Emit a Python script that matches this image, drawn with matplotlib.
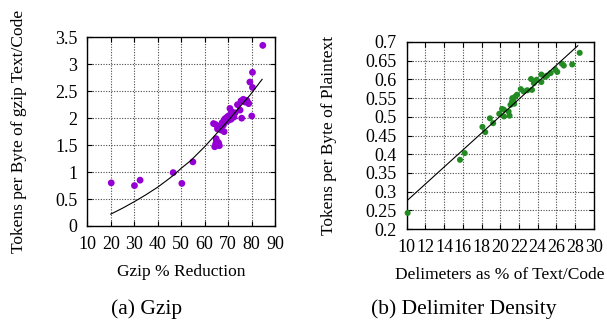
import matplotlib
matplotlib.use("Agg")
import matplotlib.pyplot as plt
import numpy as np

plt.rcParams["font.family"] = ["Liberation Serif", "DejaVu Serif"]
plt.rcParams["mathtext.fontset"] = "stix"

# (a) gzip: reduction % vs tokens per byte of gzipped text
gzip_reduction = [20.2, 30.1, 32.5, 46.6, 50.3, 55.0,
                  64.3, 64.7, 65.0, 65.4, 65.8, 66.3, 64.9, 66.0,
                  63.8, 64.8, 65.5, 66.2, 67.0, 67.5, 68.0, 68.3, 68.5,
                  69.0, 69.4, 69.8, 70.2, 70.5, 70.8, 71.3, 71.5, 72.2,
                  72.5, 73.0, 74.0, 75.1, 75.5, 75.8, 76.5, 77.2, 78.0,
                  78.6, 78.8, 79.3, 80.1, 80.4, 80.4, 84.8]
gzip_tokens = [0.80, 0.75, 0.85, 0.99, 0.79, 1.19,
               1.47, 1.52, 1.58, 1.50, 1.55, 1.49, 1.62, 1.53,
               1.90, 1.88, 1.80, 1.84, 1.78, 1.92, 1.87, 1.75, 1.98,
               2.00, 1.94, 2.03, 1.96, 2.05, 2.18, 1.98, 2.12, 2.09,
               2.02, 2.10, 2.25, 2.15, 2.32, 2.00, 2.35, 2.30, 2.33,
               2.28, 2.27, 2.67, 2.04, 2.85, 2.57, 3.35]
gzip_fit_x = [20, 25, 30, 35, 40, 44, 47, 50, 54, 57, 60, 65, 70, 75, 79.4, 84.5]
gzip_fit_y = [0.22, 0.33, 0.45, 0.58, 0.72, 0.85, 0.95, 1.07, 1.21, 1.34, 1.47,
              1.71, 1.95, 2.21, 2.43, 2.72]

# (b) delimiter density vs tokens per byte of plaintext
delim_pct = [10.1, 15.7, 16.2, 18.1, 18.4, 18.9, 19.25, 19.9, 20.2, 20.4,
             20.4, 20.9, 21.0, 21.1, 21.25, 21.4, 21.6, 21.8, 21.5, 21.3,
             22.2, 22.5, 22.9, 23.3, 23.4, 23.6, 23.9, 24.4, 24.4, 24.8,
             25.0, 25.4, 25.9, 26.1, 26.6, 26.8, 27.7, 28.5]
delim_tokens = [0.243, 0.385, 0.403, 0.473, 0.459, 0.496, 0.483, 0.508, 0.521, 0.519,
                0.501, 0.514, 0.503, 0.532, 0.540, 0.546, 0.554, 0.559, 0.535, 0.550,
                0.574, 0.568, 0.571, 0.601, 0.572, 0.590, 0.599, 0.613, 0.593, 0.607,
                0.610, 0.617, 0.626, 0.620, 0.642, 0.637, 0.640, 0.671]
delim_fit_x = [10, 28.3]
delim_fit_y = [0.275, 0.69]

W, H = 607, 320
fig = plt.figure(figsize=(W / 100, H / 100), dpi=100)

ax1 = fig.add_axes([87.3 / W, 1 - 226 / H, 187.7 / W, 188.7 / H])
ax2 = fig.add_axes([406.7 / W, 1 - 229 / H, 187.0 / W, 187.0 / H])

FS = 12.5


def style(ax, xt, yt, xlim, ylim):
	ax.set_xlim(*xlim)
	ax.set_ylim(*ylim)
	ax.set_xticks(xt)
	ax.set_yticks(yt)
	ax.set_xticklabels(["%g" % v for v in xt])
	ax.set_yticklabels(["%g" % v for v in yt])
	ax.tick_params(direction="in", top=True, right=True, length=3.5,
		width=0.8, labelsize=13, pad=7)
	ax.grid(True, color="#4a4a4a", linestyle=(0, (1, 1.4)), linewidth=0.8)
	ax.set_axisbelow(True)
	for sp in ax.spines.values():
		sp.set_linewidth(1.0)


style(ax1, np.arange(10, 91, 10), np.arange(0, 3.51, 0.5), (10, 90), (0, 3.5))
ax1.scatter(gzip_reduction, gzip_tokens, s=24, color="#9400D3",
	edgecolors="none", zorder=3, clip_on=False)
ax1.plot(gzip_fit_x, gzip_fit_y, color="black", linewidth=0.8, zorder=4)
ax1.set_xlabel("Gzip % Reduction", fontsize=FS, labelpad=8)
ax1.set_ylabel("Tokens per Byte of gzip Text/Code", fontsize=FS, labelpad=20)

style(ax2, np.arange(10, 31, 2), np.arange(0.2, 0.701, 0.05), (10, 30), (0.2, 0.7))
ax2.scatter(delim_pct, delim_tokens, s=19, color="#228B22",
	edgecolors="none", zorder=3, clip_on=False)
ax2.plot(delim_fit_x, delim_fit_y, color="black", linewidth=0.8, zorder=4)
ax2.set_xlabel("Delimeters as % of Text/Code", fontsize=FS, labelpad=8)
ax2.set_ylabel("Tokens per Byte of Plaintext", fontsize=FS, labelpad=21)

fig.text(147 / W, 1 - 309 / H, "(a) Gzip", fontsize=15.5, ha="center", va="center")
fig.text(464 / W, 1 - 309 / H, "(b) Delimiter Density", fontsize=15.5,
	ha="center", va="center")

fig.savefig("out.png", dpi=100)
